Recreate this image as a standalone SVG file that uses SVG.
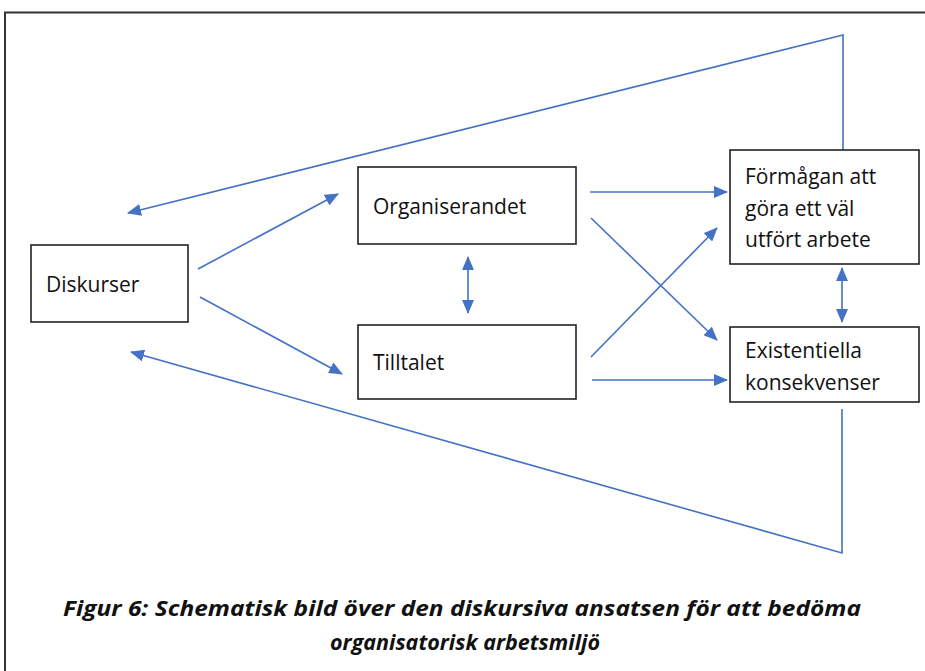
<svg xmlns="http://www.w3.org/2000/svg" width="925" height="671" viewBox="0 0 925 671">
<style>
.box{fill:#fff;stroke:#222;stroke-width:1.6}
.lbl{font-family:"Open Sans","Noto Sans",sans-serif;font-size:21px;fill:#111}
.con{fill:none;stroke:#4472C4;stroke-width:1.6}
.cap{font-family:"Open Sans","Liberation Sans",sans-serif;font-size:22px;font-weight:bold;font-style:italic;fill:#111}
</style>
<defs>
<marker id="ah" markerUnits="userSpaceOnUse" markerWidth="14" markerHeight="12" refX="13" refY="6" orient="auto-start-reverse">
<path d="M0,0 L14,6 L0,12 Z" fill="#4472C4"/>
</marker>
</defs>
<rect width="925" height="671" fill="#fff"/>
<g id="frame" fill="none" stroke="#333" stroke-width="2">
<path d="M5,671 L5,12.5 L925,12.5"/>
</g>
<g id="connectors">
<line class="con" x1="198" y1="269" x2="338" y2="194" marker-end="url(#ah)"/>
<line class="con" x1="200" y1="297" x2="342" y2="374" marker-end="url(#ah)"/>
<polyline class="con" points="843,150 843,35 128,213" marker-end="url(#ah)"/>
<polyline class="con" points="842,409 842,553 131,352" marker-end="url(#ah)"/>
<line class="con" x1="468" y1="257" x2="468" y2="313" marker-start="url(#ah)" marker-end="url(#ah)"/>
<line class="con" x1="842" y1="268" x2="842" y2="322" marker-start="url(#ah)" marker-end="url(#ah)"/>
<line class="con" x1="590" y1="192" x2="727" y2="192" marker-end="url(#ah)"/>
<line class="con" x1="591" y1="218" x2="717" y2="340" marker-end="url(#ah)"/>
<line class="con" x1="591" y1="357" x2="717" y2="228" marker-end="url(#ah)"/>
<line class="con" x1="592" y1="380" x2="727" y2="380" marker-end="url(#ah)"/>
</g>
<g id="diskurser">
<rect class="box" x="31" y="245" width="157" height="77"/>
<text class="lbl" x="46" y="292">Diskurser</text>
</g>
<g id="organiserandet">
<rect class="box" x="358" y="167" width="218" height="77"/>
<text class="lbl" x="373" y="214">Organiserandet</text>
</g>
<g id="tilltalet">
<rect class="box" x="358" y="325" width="218" height="74"/>
<text class="lbl" x="373" y="370">Tilltalet</text>
</g>
<g id="formagan">
<rect class="box" x="730" y="150" width="189" height="114"/>
<text class="lbl" x="745" y="184">Förmågan att</text>
<text class="lbl" x="745" y="216">göra ett väl</text>
<text class="lbl" x="745" y="247">utfört arbete</text>
</g>
<g id="existentiella">
<rect class="box" x="730" y="327" width="189" height="75"/>
<text class="lbl" x="745" y="358">Existentiella</text>
<text class="lbl" x="745" y="390">konsekvenser</text>
</g>
<g id="caption">
<text class="cap" x="63" y="616" textLength="798" lengthAdjust="spacingAndGlyphs">Figur 6: Schematisk bild över den diskursiva ansatsen för att bedöma</text>
<text class="cap" x="330" y="650" textLength="270" lengthAdjust="spacingAndGlyphs">organisatorisk arbetsmiljö</text>
</g>
</svg>
